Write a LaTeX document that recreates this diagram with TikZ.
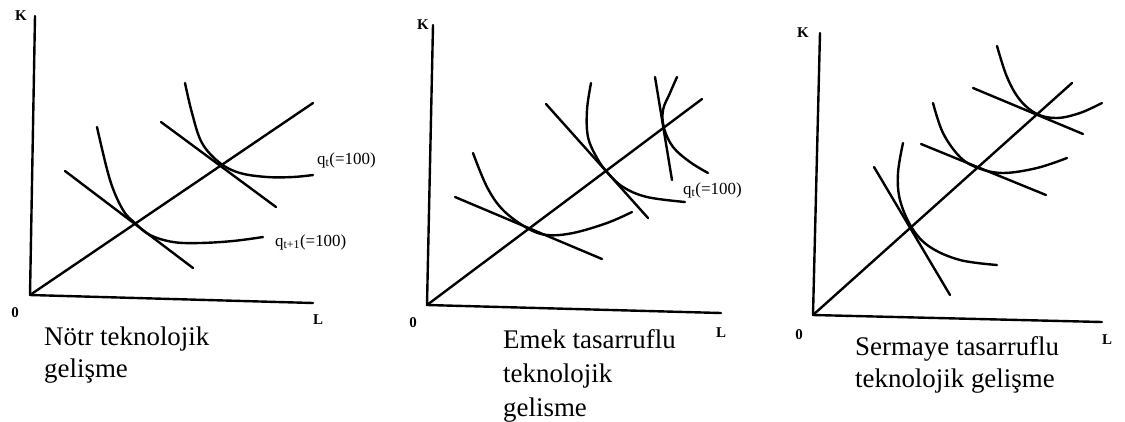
\documentclass[tikz,border=0pt]{standalone}
\usepackage{fontspec}
\setmainfont{Liberation Serif}
\begin{document}
\begin{tikzpicture}[x=1bp,y=-1bp,
  ink/.style={line width=2.4bp, line cap=round, line join=round, black},
  axislbl/.style={font=\fontsize{15}{17}\selectfont\bfseries, inner sep=0pt},
  qlbl/.style={font=\fontsize{17}{19}\selectfont, inner sep=0pt, anchor=west},
  captxt/.style={font=\fontsize{27}{32}\selectfont, inner sep=0pt, anchor=base west}]
\useasboundingbox (0,0) rectangle (1125,421);
% ---------- Panel 1 ----------
\coordinate (o1) at (30,295);
\coordinate (k1) at (35,16);
\coordinate (l1) at (313,303);
\coordinate (r1) at (313,103);
\draw[ink] (k1) -- (o1) -- (l1);
\draw[ink] (o1) -- (r1);
\draw[ink] plot[smooth, tension=0.6] coordinates {(97,127) (110,180) (123,210) (135,223) (150,235) (173,242) (200,243) (233,241) (263,237)};
\draw[ink] (65,171) -- (193,268);
\draw[ink] plot[smooth, tension=0.6] coordinates {(185,83) (192,113) (202,143) (220,163) (240,173) (267,177) (293,177) (313,175)};
\draw[ink] (161,122) -- (276,207);
\node[axislbl] (K1) at (21,16) {K};
\node[axislbl] (O1) at (15,313) {0};
\node[axislbl] (L1) at (318,320) {L};
\node[qlbl] (q1a) at (317,160) {q\textsubscript{t}(=100)};
\node[qlbl] (q1b) at (275,242) {q\textsubscript{t+1}(=100)};
\node[captxt] (c1a) at (44,345) {Nötr teknolojik};
\node[captxt] (c1b) at (44,377) {gelişme};
% ---------- Panel 2 ----------
\coordinate (o2) at (427,305);
\coordinate (k2) at (433,25);
\coordinate (l2) at (721,313);
\coordinate (r2) at (702,99);
\draw[ink] (k2) -- (o2) -- (l2);
\draw[ink] (o2) -- (r2);
\draw[ink] plot[smooth, tension=0.6] coordinates {(473,153) (487,187) (503,210) (527,228) (547,235) (573,233) (607,223) (632,212)};
\draw[ink] (455,197) -- (602,259);
\draw[ink] plot[smooth, tension=0.6] coordinates {(591,83) (587,110) (588,137) (597,158) (607,172) (623,187) (647,197) (685,202)};
\draw[ink] (546,104) -- (648,218);
\draw[ink] plot[smooth, tension=0.6] coordinates {(677,77) (670,93) (663,110) (664,128) (673,147) (690,162) (708,173)};
\draw[ink] (655,77) -- (672,180);
\node[axislbl] (K2) at (423,25) {K};
\node[axislbl] (O2) at (413,323) {0};
\node[axislbl] (L2) at (721,333) {L};
\node[qlbl] (q2a) at (683,190) {q\textsubscript{t}(=100)};
\node[captxt] (c2a) at (503,348) {Emek tasarruflu};
\node[captxt] (c2b) at (503,382) {teknolojik};
\node[captxt] (c2c) at (503,416) {gelisme};
% ---------- Panel 3 ----------
\coordinate (o3) at (813,315);
\coordinate (k3) at (820,33);
\coordinate (l3) at (1102,322);
\coordinate (r3) at (1072,83);
\draw[ink] (k3) -- (o3) -- (l3);
\draw[ink] (o3) -- (r3);
\draw[ink] plot[smooth, tension=0.6] coordinates {(903,143) (898,173) (900,200) (912,228) (930,247) (960,260) (997,265)};
\draw[ink] (874,167) -- (950,295);
\draw[ink] plot[smooth, tension=0.6] coordinates {(933,103) (943,133) (960,157) (978,168) (1003,173) (1037,168) (1067,158)};
\draw[ink] (921,144) -- (1046,195);
\draw[ink] plot[smooth, tension=0.6] coordinates {(997,46) (1007,77) (1020,100) (1037,114) (1057,118) (1080,113) (1102,103)};
\draw[ink] (973,88) -- (1083,134);
\node[axislbl] (K3) at (803,33) {K};
\node[axislbl] (O3) at (799,335) {0};
\node[axislbl] (L3) at (1107,340) {L};
\node[captxt] (c3a) at (855,355) {Sermaye tasarruflu};
\node[captxt] (c3b) at (855,387) {teknolojik gelişme};
\end{tikzpicture}
\end{document}
